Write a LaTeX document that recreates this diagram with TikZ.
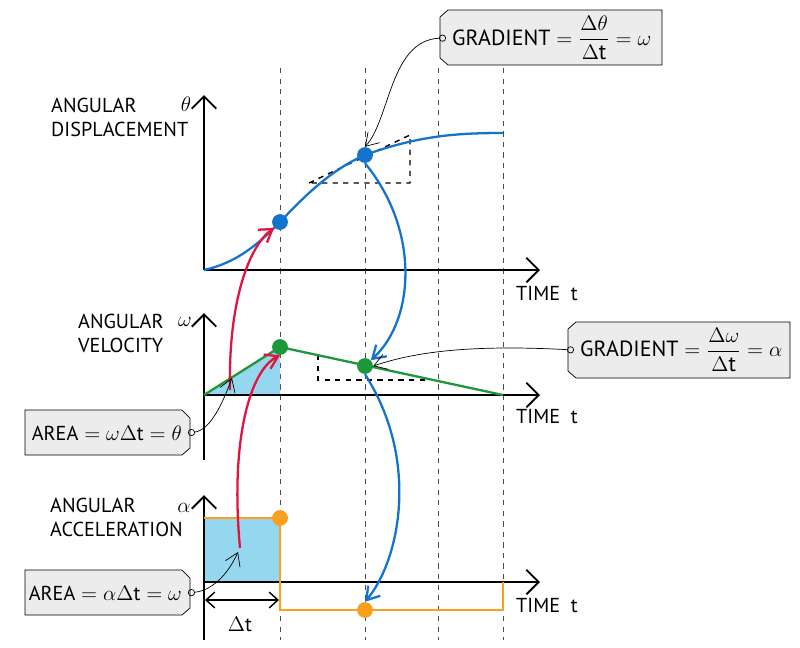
\documentclass[tikz,border=0pt]{standalone}
\usepackage{amsmath}
\usepackage{fontspec}
\setmainfont{PT Sans}
\usetikzlibrary{arrows.meta}
\definecolor{curveblue}{RGB}{20,115,205}
\definecolor{arrred}{RGB}{225,20,60}
\definecolor{lgreen}{RGB}{30,150,60}
\definecolor{lorange}{RGB}{250,160,30}
\definecolor{fillblue}{RGB}{150,215,240}
\tikzset{
axis/.style={line width=1.1pt, -{Straight Barb[length=7pt,width=14pt]}},
guide/.style={dashed, gray!60!black},
dot/.style={circle, inner sep=0pt, minimum size=9pt},
lbl/.style={font=\fontsize{11.5}{13.5}\selectfont, align=left},
big/.style={font=\fontsize{12.5}{14}\selectfont},
callout/.style={draw=black, fill=gray!15},
pointer/.style={-{Straight Barb[length=7pt,width=9pt]}},
link/.style={line width=1.3pt, pointer},
}
\begin{document}
\begin{tikzpicture}[x=0.02cm, y=-0.02cm]
\useasboundingbox (0,0) rectangle (800,647);

% guide lines
\foreach \gx in {280,365,438,503}
  \draw[guide] (\gx,68) -- (\gx,640);

% fills
\fill[fillblue] (204,395) -- (280,347) -- (280,395) -- cycle;
\fill[fillblue] (204,518) rectangle (280,582);

% axes
\coordinate (O1) at (204,270);
\coordinate (O2) at (204,395);
\coordinate (O3) at (204,582);
\draw[axis] (O1) -- (204,95);
\draw[axis] (O1) -- (540,270);
\draw[axis] (204,460) -- (204,313);
\draw[axis] (O2) -- (540,395);
\draw[axis] (204,640) -- (204,495);
\draw[axis] (O3) -- (540,582);

\node[lbl, anchor=north west] (tt1) at (510,280) {TIME\ \ t};
\node[lbl, anchor=north west] (tt2) at (510,403) {TIME\ \ t};
\node[lbl, anchor=north west] (tt3) at (510,592) {TIME\ \ t};
\node[lbl, anchor=north west] (ylab1) at (45,92) {ANGULAR\\DISPLACEMENT};
\node[lbl] (th) at (186,104) {$\theta$};
\node[lbl, anchor=north west] (ylab2) at (72,308) {ANGULAR\\VELOCITY};
\node[lbl] (om) at (185,322) {$\omega$};
\node[lbl, anchor=north west] (ylab3) at (44,492) {ANGULAR\\ACCELERATION};
\node[lbl] (al) at (184,508) {$\alpha$};

% tangent constructions
\draw[dashed, thick] (309,183) -- (410,135) -- (410,183) -- cycle;
\draw[dashed, thick] (318,355) -- (318,380) -- (430,380);

% graphs
\draw[curveblue, line width=1.3pt] (O1) .. controls (240,262) and (262,240) .. (280,222)
  .. controls (310,190) and (335,168) .. (365,155)
  .. controls (420,135) and (460,133) .. (503,133);
\draw[lgreen, line width=1.3pt] (O2) -- (280,347) -- (503,395);
\draw[lorange, line width=1.3pt] (204,518) -- (280,518) -- (280,610) -- (503,610) -- (503,582);

\node[dot, fill=curveblue] (p1) at (280,222) {};
\node[dot, fill=curveblue] (p2) at (365,155) {};
\node[dot, fill=lgreen] (q1) at (280,347) {};
\node[dot, fill=lgreen] (q2) at (365,366) {};
\node[dot, fill=lorange] (r1) at (280,518) {};
\node[dot, fill=lorange] (r2) at (365,610) {};

% delta t
\draw[thick, {Straight Barb[length=5pt,width=9pt]}-{Straight Barb[length=5pt,width=9pt]}] (205,600) -- (279,600);
\node[lbl] (dt) at (240,624) {$\Delta$t};

% red and blue links
\draw[arrred, link] (230,390) .. controls (228,300) and (250,245) .. (p1.south west);
\draw[arrred, link] (240,548) .. controls (230,440) and (250,370) .. (q1.south);
\draw[curveblue, link] (p2.south) .. controls (420,230) and (415,320) .. (q2.north east);
\draw[curveblue, link] (q2.south) .. controls (420,460) and (400,560) .. (r2.north);

% callouts
\draw[callout] (448,10) -- (662,10) -- (662,65) -- (448,65) -- (440,58) -- (440,17) -- cycle;
\node[big, anchor=west] (g1) at (446,38) {GRADIENT $=\dfrac{\Delta\theta}{\Delta \mathrm{t}}=\omega$};
\draw[callout] (576,322) -- (790,322) -- (790,378) -- (576,378) -- (568,371) -- (568,329) -- cycle;
\node[big, anchor=west] (g2) at (574,350) {GRADIENT $=\dfrac{\Delta\omega}{\Delta \mathrm{t}}=\alpha$};
\draw[callout] (25,410) -- (182,410) -- (190,418) -- (190,448) -- (182,455) -- (25,455) -- cycle;
\node[lbl, anchor=east] (a1) at (188,433) {AREA${}={}\omega\Delta\mathrm{t}{}={}\theta$};
\draw[callout] (25,570) -- (182,570) -- (190,578) -- (190,608) -- (182,615) -- (25,615) -- cycle;
\node[lbl, anchor=east] (a2) at (188,593) {AREA${}={}\alpha\Delta\mathrm{t}{}={}\omega$};

% callout pointers
\draw[pointer, {Circle[open,length=4pt]}-{Straight Barb[length=7pt,width=9pt]}] (g1.west) .. controls (390,40) and (390,120) .. (p2.north);
\draw[pointer, {Circle[open,length=4pt]}-{Straight Barb[length=7pt,width=9pt]}] (g2.west) .. controls (480,345) and (420,350) .. (q2.east);
\draw[pointer, {Circle[open,length=4pt]}-{Straight Barb[length=7pt,width=9pt]}] (a1.east) .. controls (210,430) and (222,405) .. (232,378);
\draw[pointer, {Circle[open,length=4pt]}-{Straight Barb[length=7pt,width=9pt]}] (a2.east) .. controls (215,590) and (230,570) .. (238,552);
\end{tikzpicture}
\end{document}
